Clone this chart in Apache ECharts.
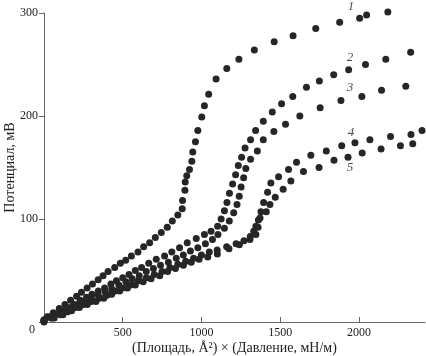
<!DOCTYPE html>
<html><head><meta charset="utf-8">
<script src="https://cdn.jsdelivr.net/npm/echarts@6/dist/echarts.min.js"></script>
<style>html,body{margin:0;padding:0;background:#fff}#c{width:426px;height:356px}</style>
</head><body><div id="c"></div>
<script>
const xTicks = [0, 500, 1000, 1500, 2000];
const yTicks = [0, 100, 200, 300];
const seriesNames = ['1', '2', '3', '4', '5'];
const s1 = [[0,2],[21,5],[59,9],[97,13],[133,17],[169,21],[207,25],[238,29],[274,33],[308,37],[344,41],[375,45],[407,49],[449,53],[485,57],[519,60],[555,64],[597,68],[633,73],[671,77],[707,82],[745,87],[783,92],[815,98],[850,104],[878,110],[880,118],[895,128],[897,136],[907,142],[924,148],[939,156],[945,165],[962,175],[977,186],[1002,199],[1019,210],[1046,221],[1093,236],[1161,246],[1238,255],[1336,264],[1462,272],[1582,278],[1726,285],[1878,291],[2005,295],[2049,298],[2184,301]];
const s2 = [[0,2],[35,5],[75,8],[115,11],[150,14],[190,17],[230,21],[270,24],[305,27],[345,30],[385,33],[425,37],[460,40],[500,43],[540,46],[580,50],[620,53],[665,57],[713,61],[766,64],[812,68],[861,72],[910,77],[967,81],[1019,85],[1061,88],[1103,93],[1125,100],[1146,108],[1162,116],[1178,125],[1198,134],[1217,143],[1234,152],[1255,160],[1277,169],[1312,177],[1344,186],[1393,195],[1450,204],[1509,212],[1580,219],[1667,228],[1749,234],[1840,240],[1935,245],[2042,250],[2171,255],[2329,262]];
const s3 = [[0,1],[45,4],[90,8],[130,11],[175,14],[215,17],[260,20],[300,23],[345,26],[390,29],[430,32],[475,36],[520,39],[560,42],[605,45],[650,49],[695,52],[740,55],[790,58],[840,62],[885,65],[930,69],[977,72],[1025,76],[1070,80],[1105,85],[1146,91],[1177,98],[1205,106],[1226,114],[1240,122],[1252,131],[1268,140],[1282,149],[1312,158],[1355,166],[1393,177],[1460,185],[1534,192],[1625,200],[1754,208],[1886,215],[2019,219],[2144,225],[2298,229]];
const s4 = [[0,1],[55,4],[105,7],[150,10],[200,14],[250,17],[300,20],[350,23],[400,26],[450,30],[500,33],[550,36],[600,40],[650,43],[700,46],[750,49],[800,53],[850,56],[900,59],[950,62],[1000,65],[1050,68],[1100,70],[1160,73],[1220,76],[1270,79],[1310,83],[1332,88],[1346,93],[1362,99],[1378,107],[1395,116],[1420,126],[1441,135],[1490,141],[1553,148],[1604,155],[1695,162],[1793,166],[1891,171],[1975,174],[2070,177],[2201,180],[2331,182],[2401,186]];
const s5 = [[0,0],[65,4],[120,7],[175,11],[225,14],[275,17],[330,20],[380,23],[430,27],[480,30],[530,33],[580,36],[630,39],[680,42],[735,45],[785,49],[835,52],[885,55],[935,58],[985,61],[1040,63],[1101,66],[1175,71],[1241,75],[1308,80],[1346,85],[1360,92],[1372,101],[1412,107],[1435,114],[1469,121],[1519,129],[1568,137],[1648,146],[1747,150],[1842,157],[1931,160],[2021,164],[2141,168],[2264,171],[2342,173]];
const labelPos = [[1950,306],[1943,257],[1943,228],[1950,184],[1943,150]];

const serif = '"Liberation Serif","DejaVu Serif",serif';
const dotColor = '#262626';
const chart = echarts.init(document.getElementById('c'), null, {renderer:'canvas'});
const dataSets = [s1, s2, s3, s4, s5];
const series = dataSets.map((d, i) => ({
  type: 'scatter', name: seriesNames[i], data: d, symbolSize: 7, clip: false,
  itemStyle: {color: dotColor, opacity: 1}, silent: true
}));
series.push({
  type: 'scatter', data: labelPos.map((p, i) => ({value: p, name: seriesNames[i]})),
  symbolSize: 0, clip: false, silent: true,
  label: {show: true, position: 'inside', formatter: p => p.name, fontFamily: serif,
    fontStyle: 'italic', fontSize: 13, color: '#222'}
});
chart.setOption({
  animation: false,
  grid: {left: 44, right: 1, top: 13, bottom: 34, containLabel: false, outerBoundsMode: 'none'},
  xAxis: {
    type: 'value', min: 0, max: 2420, interval: 500,
    name: '(Площадь, Å²) × (Давление, мН/м)', nameLocation: 'middle', nameGap: 19,
    nameMoveOverlap: false,
    nameTextStyle: {fontFamily: serif, fontSize: 14, color: '#222'},
    axisLine: {lineStyle: {color: '#666', width: 1}},
    axisTick: {inside: true, length: 5, lineStyle: {color: '#666'}},
    axisLabel: {fontFamily: serif, fontSize: 12, color: '#222', margin: 5, showMaxLabel: false,
      formatter: v => (xTicks.indexOf(v) > 0 ? String(v) : '')},
    splitLine: {show: false}
  },
  yAxis: {
    type: 'value', min: 0, max: 300, interval: 100,
    name: 'Потенциал, мВ', nameLocation: 'middle', nameGap: 27, nameRotate: 90,
    nameMoveOverlap: false,
    nameTextStyle: {fontFamily: serif, fontSize: 14, color: '#222'},
    axisLine: {show: true, lineStyle: {color: '#666', width: 1}},
    axisTick: {show: true, inside: false, length: 5, lineStyle: {color: '#666'}},
    axisLabel: {fontFamily: serif, fontSize: 12, color: '#222', margin: 6,
      formatter: v => (yTicks.indexOf(v) > 0 ? String(v) : '')},
    splitLine: {show: false}
  },
  graphic: [{type: 'text', left: 29, top: 324,
    style: {text: '0', font: '12px ' + serif, fill: '#222'}}],
  series: series
});
</script></body></html>
